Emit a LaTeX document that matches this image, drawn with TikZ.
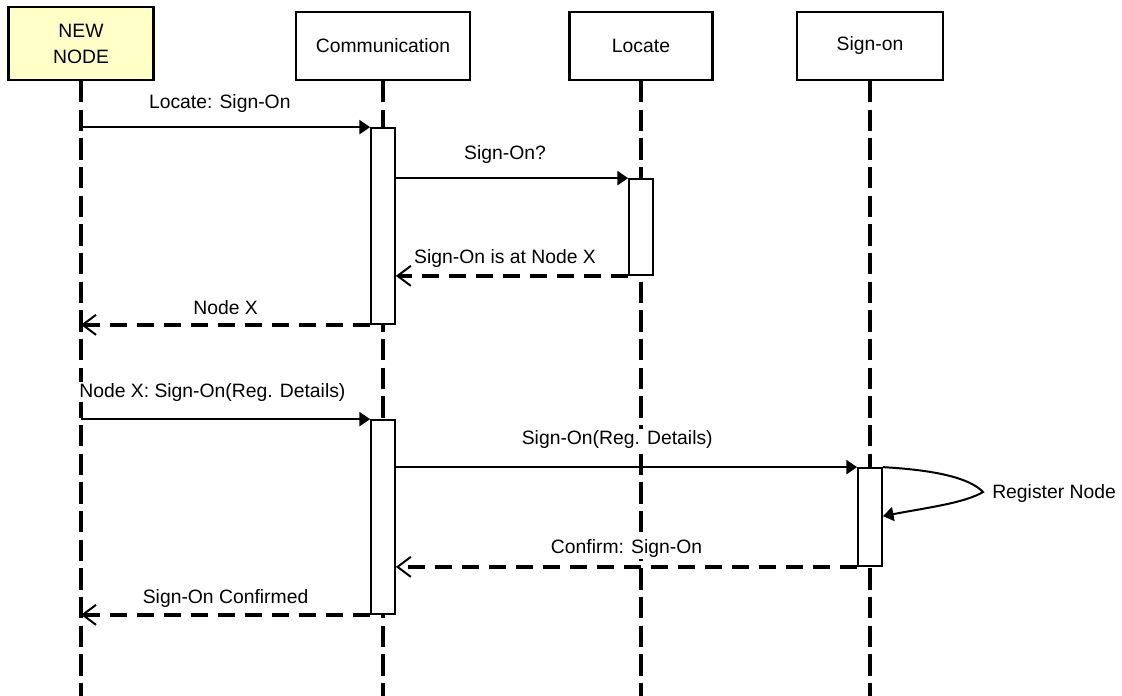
\documentclass[tikz,border=0pt]{standalone}
\usepackage{fontspec}
\setmainfont{Liberation Sans}
\usepackage{xcolor}
\usetikzlibrary{arrows.meta}
\usetikzlibrary{calc}
\usetikzlibrary{positioning}

\definecolor{newnodefill}{RGB}{255,255,200}

\begin{document}
\begin{tikzpicture}[x=0.75pt,y=-0.75pt,
                    font=\fontsize{14.5}{19.5}\selectfont]
  \tikzstyle{head}=[draw=black, line width=1.6pt, fill=white, align=center, minimum height=51pt]
  \tikzstyle{lifeline}=[line width=2.4pt, dash pattern=on 16pt off 5.5pt]
  \tikzstyle{act}=[draw=black, line width=1.3pt, fill=white, minimum width=18pt, inner sep=0pt]
  \tikzstyle{msg}=[line width=1.5pt, -{Triangle[length=8pt,width=10.5pt]}]
  \tikzstyle{reply}=[line width=2.6pt, dash pattern=on 12.75pt off 7.5pt,
                     -{Straight Barb[length=10pt,width=15pt,line width=1.5pt]}]
  \tikzstyle{lbl}=[anchor=base, fill=white, inner sep=1pt]

  \useasboundingbox (0,0) rectangle (1122,696);
  \coordinate (bottom) at (0,696);

  % heads
  \node[head, fill=newnodefill, minimum width=108.75pt, minimum height=54.75pt] (nn) at (81,43.5) {NEW\\NODE};
  \node[head, minimum width=130.5pt] (comm) at (383,46) {Communication};
  \node[head, minimum width=107.25pt] (loc) at (641,46) {Locate};
  \node[head, minimum width=109.5pt] (sign) at (870,46) {Sign-on};

  % lifelines
  \foreach \h in {nn,comm,loc,sign}
    \draw[lifeline] (\h.south) -- (\h.south |- bottom);

  % activations
  \node[act, minimum height=147pt] (c1) at (383,226) {};
  \node[act, minimum height=72pt] (l1) at (641,227) {};
  \node[act, minimum height=145.5pt] (c2) at (383,517) {};
  \node[act, minimum height=73.5pt] (s1) at (870,517) {};

  % messages
  \draw[msg] (nn |- c1.north) -- node[lbl, pos=0.48, yshift=14.25pt] {Locate: Sign-On} (c1.north west);
  \draw[msg] (c1.east |- l1.north) -- node[lbl, pos=0.47, yshift=14.25pt] {Sign-On?} (l1.north west);
  \draw[reply] (l1.south west) -- node[lbl, pos=0.53, yshift=9pt] {Sign-On is at Node X} (c1.east |- l1.south);
  \draw[reply] (c1.south west) -- node[lbl, yshift=7.5pt] {Node X} (nn |- c1.south);

  \draw[msg] (nn |- c2.north) -- node[lbl, anchor=base west, pos=0, xshift=-3pt, yshift=16.5pt] {Node X: Sign-On(Reg. Details)} (c2.north west);
  \draw[msg] (c2.east |- s1.north) -- node[lbl, pos=0.48, yshift=17.25pt] {Sign-On(Reg. Details)} (s1.north west);

  % self call
  \coordinate (reg) at (983,492);
  \coordinate (back) at ($(s1.north east)+(0,49)$);
  \draw[line width=1.5pt, -{Triangle[length=8pt,width=10.5pt]}]
        (s1.north east) .. controls (935,470) and (970,478) .. (reg)
        .. controls (965,503) and (925,508) .. (back);
  \node[anchor=base west, inner sep=0pt] (regl) at (992,498) {Register Node};

  \draw[reply] (s1.south west) -- node[lbl, yshift=9.75pt] {Confirm: Sign-On} (c2.east |- s1.south);
  \draw[reply] (c2.south west) -- node[lbl, yshift=8.25pt] {Sign-On Confirmed} (nn |- c2.south);
\end{tikzpicture}
\end{document}
